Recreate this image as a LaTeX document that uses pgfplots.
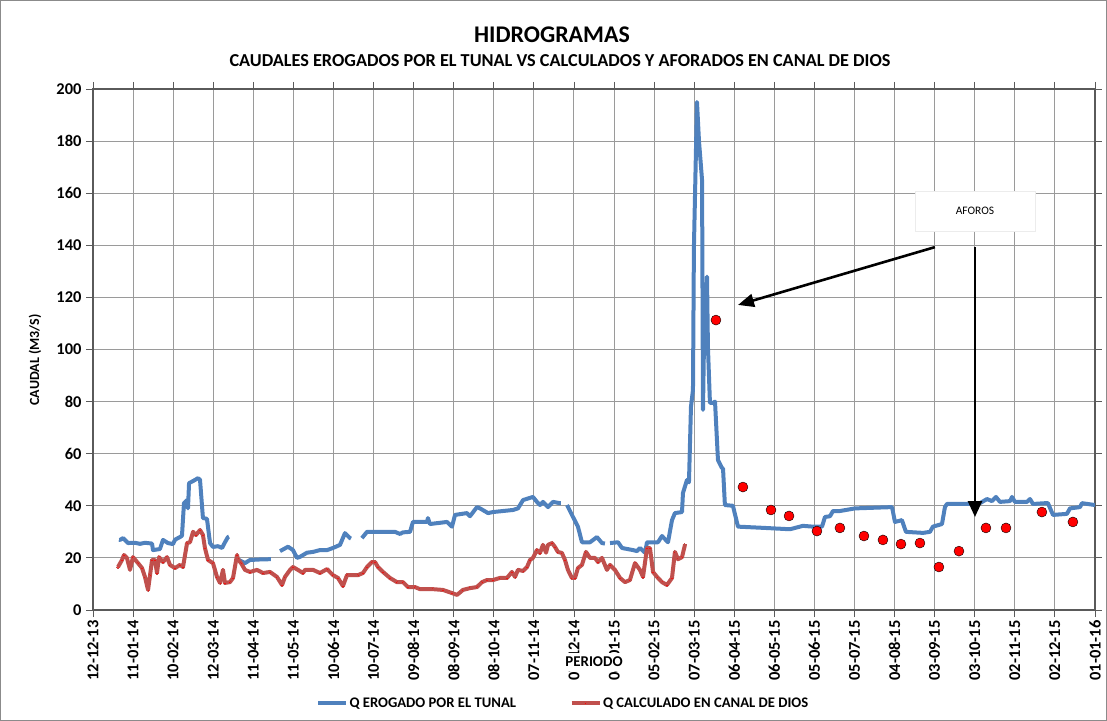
\documentclass[border=0pt]{standalone}
\usepackage{fontspec}
\setmainfont{Carlito}
\usepackage{pgfplots}
\pgfplotsset{compat=1.18}
\usepackage{pgfplotstable}
\usetikzlibrary{arrows.meta}
\definecolor{qblue}{HTML}{4F81BD}
\definecolor{qred}{HTML}{C0504D}
\definecolor{gridc}{HTML}{9A9A9A}
\definecolor{axc}{HTML}{5A5A5A}

\pgfplotstableread{
x y
19.5 27
20.2 26.9
22.5 27.6
26.2 25.7
31.4 25.8
35.2 25.4
38.9 25.8
44.2 25.5
44.9 23
50.1 23.4
52.4 26.9
56.1 25.7
59.9 25.3
61.4 27
65.1 28
66.6 28.5
68.1 41
70.4 42.2
71.1 39
71.9 48.7
74.9 49.5
78.6 50.6
80.1 50
82.3 35.3
85.3 35
87.6 25.7
89.8 24.2
93.6 24.5
96.6 23.8
98.8 26
101.0 28
101.8 28.2
105 nan
109.3 19.2
113.8 18
117.5 19.2
125.0 19.4
132.5 19.5
133.2 19.5
136 nan
140.0 22.6
146.0 24.3
149.7 23
152.7 20
154.9 20.4
160.2 22
164.7 22.3
169.9 23
175.2 23
179.6 23.8
184.9 25
188.6 29.5
192.4 27.6
193.1 27.4
197 nan
201.3 27.6
205.1 30
207.3 30
226.0 30
229.8 29.2
232.0 29.8
237.3 30
239.5 33.8
250.0 33.8
250.7 35.3
252.2 33
265.0 33.8
268.7 32
271.0 36.5
279.9 37.2
282.2 36
287.4 39.5
289.7 39
295.7 37.2
299.4 37.6
314.4 38.4
318.1 39
321.9 42.2
329.3 43.4
332.3 41.5
334.6 40.3
336.8 41.5
340.6 39.5
344.3 41.5
349.5 41
350.3 41
352 nan
354.8 40.3
359.3 35.7
363.0 32
366.0 26
372.0 26
377.2 28
381.0 25.7
383.2 25.5
385 nan
387.0 25.7
393.0 26
396.0 23.8
404.2 23
407.2 22.6
409.4 23.8
413.2 22
414.7 26
422.9 26
425.9 28.4
430.4 26
433.4 34.5
435.6 37.2
440.9 37.6
441.6 44.9
444.6 49.9
446.1 49
447.6 78
449.1 84.5
449.8 139
452.1 195
453.6 180
455.9 165
456.6 76.8
457.3 101
459.6 128
460.3 101
461.8 79.5
464.1 79.5
465.6 80
467.8 57.6
470.8 54.5
471.6 54.3
473.0 40.3
479.0 40
482.8 32
503.0 31.5
521.7 31
531.4 32.3
538.9 32
545.7 32
547.9 35.7
551.7 36
553.9 38
559.1 38
570.4 39
598.1 39.5
600.3 33.8
605.5 34.5
608.5 30
621.3 29.6
626.5 30
628.7 32
635.5 33
637.7 39.5
639.2 40.7
654.2 40.7
663.9 41
669.2 42.6
672.9 41.8
675.9 43.4
678.9 41.5
686.4 41.8
687.9 43.4
690.1 41.5
699.1 41.5
701.4 42.6
703.6 40.7
712.6 41
714.8 41
718.6 36.5
729.0 36.9
731.3 39
738.8 39.5
740.3 41
750.0 40.3
}\erogado

\pgfplotstableread{
x y
18.7 16.5
21.7 19.2
23.2 21.1
25.4 20
27.7 15.4
29.9 20.3
33.7 18
36.7 16.1
38.9 12.7
41.2 7.7
42.7 13.4
44.2 19.2
46.4 19.2
47.9 14.2
49.4 20.3
52.4 18.4
55.4 20.3
57.6 17.3
61.4 16.1
65.1 17.3
67.4 16.5
70.4 25.7
72.6 26
74.9 30
77.1 28.8
80.1 30.7
82.3 28.8
83.8 23.8
86.1 19.2
89.8 18
92.8 12.7
95.1 10.4
97.3 15.4
98.8 10.4
102.5 10.7
104.8 12.3
107.8 21.1
108.5 19.5
110.8 18
113.8 15.4
117.5 14.6
122.8 15.4
127.2 14.2
132.5 14.6
137.7 12.7
141.5 9.6
143.7 12.7
147.5 15.4
149.7 16.5
153.4 15.4
157.2 14.2
158.7 15.4
164.7 15.4
169.9 14.2
175.2 15.7
179.6 13.4
183.4 12.3
187.1 9.2
190.1 13.4
198.4 13.4
202.1 14.2
205.1 16.5
208.8 18.4
211.1 18.4
213.3 16.5
217.1 14.6
222.3 12.3
227.5 10.7
232.0 10.7
235.8 8.8
241.0 8.8
244.8 8
254.5 8
262.0 7.7
268.7 6.5
272.5 5.8
276.9 7.7
282.2 8.4
287.4 8.8
291.2 10.7
294.9 11.5
299.4 11.5
304.6 12.3
309.9 12.3
313.6 14.6
315.9 12.7
318.1 15.4
321.9 15
324.9 16.5
327.1 19.2
329.3 20
332.3 23
334.6 21.9
336.8 25
339.1 22
340.6 25
343.6 25.7
345.8 24.2
348.0 22.3
351.0 21.9
353.3 19.2
355.5 15.4
358.5 12.3
360.8 12.3
363.0 16.1
366.0 17.3
369.0 22.3
372.0 20
375.7 20
378.0 18.4
381.0 20
384.7 15.4
387.0 17.3
390.7 15.4
394.5 12.3
398.2 10.7
401.9 11.5
405.7 18
409.4 15.4
411.7 12.7
414.7 23.8
416.9 23.8
419.2 14.6
422.2 12.7
425.9 10.7
429.6 9.6
433.4 12.3
435.6 22.3
437.9 19.5
440.9 20.3
443.1 25
}\calculado

\pgfplotstableread{
x y
466.3 111.3
486.5 47.2
507.5 38.4
521.0 36.1
541.9 30.3
559.1 31.5
577.1 28.4
591.3 26.9
604.8 25.3
619.0 25.7
633.2 16.5
648.2 22.6
668.4 31.5
683.4 31.5
710.3 37.6
733.5 33.8
}\aforos

\begin{document}
\begin{tikzpicture}[font=\bfseries]
\useasboundingbox (0,0) rectangle (1107bp,721bp);
\draw[axc!70, line width=1bp] (0.5bp,0.5bp) rectangle (1106.5bp,720.5bp);
\begin{axis}[
  at={(93bp,111bp)}, anchor=south west,
  scale only axis, width=1002bp, height=521bp,
  xmin=0, xmax=750, ymin=0, ymax=200,
  xtick={0,30,...,750},
  xticklabels={12-12-13,11-01-14,10-02-14,12-03-14,11-04-14,11-05-14,10-06-14,10-07-14,09-08-14,08-09-14,08-10-14,07-11-14,07-12-14,06-01-15,05-02-15,07-03-15,06-04-15,06-05-15,05-06-15,05-07-15,04-08-15,03-09-15,03-10-15,02-11-15,02-12-15,01-01-16},
  ytick={0,20,...,200},
  /pgf/number format/assume math mode=true,
  xticklabel style={font=\fontsize{16.5}{17}\selectfont\bfseries, rotate=90, anchor=east},
  yticklabel style={font=\fontsize{16.5}{17}\selectfont\bfseries, xshift=-1bp},
  tick align=outside, major tick length=7bp,
  tick style={axc, line width=0.8bp},
  axis line style={axc, line width=1.2bp},
  grid=major, grid style={gridc, line width=0.9bp},
  unbounded coords=jump,
  xlabel={PERIODO},
  xlabel style={at={(axis description cs:0.5,-0.0998)}, anchor=center, fill=white, inner xsep=6bp, inner ysep=4bp, font=\fontsize{15}{16}\selectfont\bfseries},
  ylabel={CAUDAL (M3/S)},
  ylabel style={at={(axis description cs:-0.058,0.48)}, anchor=center, font=\fontsize{14}{15}\selectfont\bfseries},
  legend columns=2,
  legend style={at={(axis description cs:0.469,-0.179)}, anchor=center, draw=none, fill=none,
    font=\fontsize{14.7}{15}\selectfont\bfseries, inner xsep=0pt,
    nodes={inner xsep=1.5bp}},
  legend image code/.code={
    \draw[#1, mark=none] (0bp,0bp) -- (28bp,0bp);
    \draw[#1, only marks] plot coordinates {(14bp,0bp)};
  },
]
\addplot[qblue, line width=4bp, line join=round] table {\erogado};
\addlegendentry{Q EROGADO  POR EL TUNAL\rule{52bp}{0pt}}
\addplot[qred, line width=4bp, line join=round, mark=*, mark size=1.1bp, mark options={fill=red, draw=none, line width=0pt}] table {\calculado};
\addlegendentry{Q CALCULADO EN CANAL DE DIOS}
\addplot[only marks, mark=*, mark size=5bp, mark options={fill=red, draw=none}, forget plot] table {\aforos};
\draw[-{Triangle[length=16bp,width=13bp]}, line width=2.6bp] (axis cs:630.2,139.3) -- (axis cs:482.8,117.1);
\draw[-{Triangle[length=16bp,width=14bp]}, line width=2.6bp] (axis cs:660.2,139.3) -- (axis cs:660.2,35.7);
\end{axis}
\node[draw=gray!15, line width=0.8bp, minimum width=120bp, minimum height=40bp, font=\fontsize{11.5}{12}\selectfont\mdseries, fill=white] at (975bp,510bp) {AFOROS};
\node[font=\fontsize{24}{26}\selectfont\bfseries] at (552bp,686bp) {HIDROGRAMAS};
\node[font=\fontsize{18.3}{20}\selectfont\bfseries] at (560bp,660bp) {CAUDALES EROGADOS POR EL TUNAL VS CALCULADOS Y AFORADOS EN CANAL DE DIOS};
\end{tikzpicture}
\end{document}
